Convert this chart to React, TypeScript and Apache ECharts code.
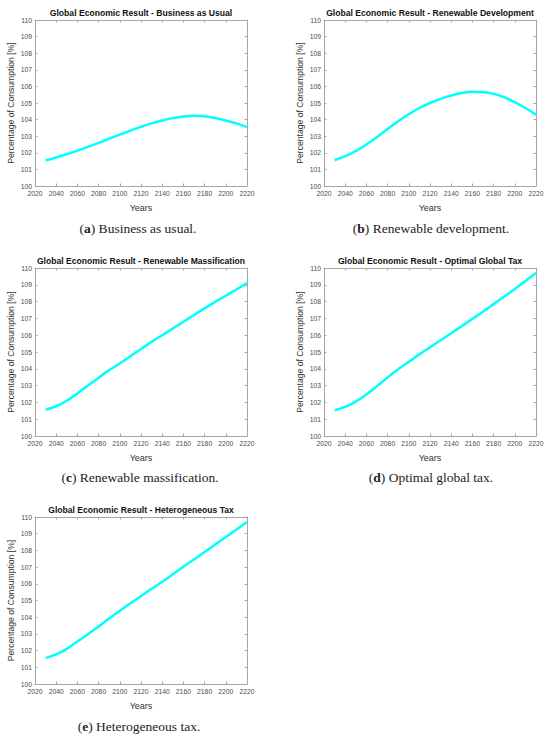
import React, { useEffect, useRef } from "react";
import * as echarts from "echarts";

const years = [2030, 2040, 2050, 2060, 2070, 2080, 2090, 2100, 2110, 2120, 2130, 2140, 2150, 2160, 2170, 2180, 2190, 2200, 2210, 2220];
const businessAsUsual = [101.55, 101.72, 101.92, 102.13, 102.36, 102.6, 102.85, 103.1, 103.34, 103.56, 103.77, 103.95, 104.09, 104.19, 104.23, 104.2, 104.1, 103.95, 103.77, 103.55];
const renewableDevelopment = [101.55, 101.8, 102.1, 102.5, 102.95, 103.43, 103.9, 104.32, 104.7, 105.0, 105.25, 105.45, 105.6, 105.68, 105.66, 105.55, 105.35, 105.05, 104.7, 104.3];
const renewableMassification = [101.57, 101.77, 102.1, 102.53, 103.0, 103.47, 103.92, 104.32, 104.75, 105.18, 105.6, 106.0, 106.4, 106.8, 107.2, 107.6, 107.98, 108.35, 108.72, 109.1];
const optimalGlobalTax = [101.53, 101.73, 102.05, 102.47, 102.97, 103.49, 103.97, 104.42, 104.86, 105.28, 105.7, 106.12, 106.54, 106.97, 107.4, 107.85, 108.3, 108.75, 109.22, 109.7];
const heterogeneousTax = [101.55, 101.77, 102.1, 102.55, 102.98, 103.44, 103.92, 104.38, 104.83, 105.27, 105.7, 106.12, 106.57, 107.02, 107.46, 107.91, 108.35, 108.8, 109.25, 109.7];

const titles = [
  "Global Economic Result - Business as Usual",
  "Global Economic Result - Renewable Development",
  "Global Economic Result - Renewable Massification",
  "Global Economic Result - Optimal Global Tax",
  "Global Economic Result - Heterogeneous Tax",
];
const captionLetters = ["a", "b", "c", "d", "e"];
const captionTexts = [
  "Business as usual.",
  "Renewable development.",
  "Renewable massification.",
  "Optimal global tax.",
  "Heterogeneous tax.",
];
const seriesValues = [businessAsUsual, renewableDevelopment, renewableMassification, optimalGlobalTax, heterogeneousTax];
const xLabel = "Years";
const yLabel = "Percentage of Consumption [%]";

// layout
const cols = [
  { left: 35, right: 247 },
  { left: 324, right: 536 },
];
const rows = [
  { top: 20, bottom: 186, title: 13, caption: 228 },
  { top: 268, bottom: 436, title: 261, caption: 477 },
  { top: 517, bottom: 684, title: 510, caption: 726 },
];
const captionX = [138, 431, 140, 431, 139];

const SANS = "'Liberation Sans', Arial, sans-serif";
const SERIF = "'Liberation Serif', 'Times New Roman', serif";
const AXIS_COLOR = "#a6a6a6";
const LABEL_COLOR = "#4d4d4d";

export default function App() {
  const ref = useRef<HTMLDivElement>(null);
  useEffect(() => {
    if (!ref.current) return;
    const chart = echarts.init(ref.current, undefined, { renderer: "svg" });
    const grids: any[] = [];
    const xAxes: any[] = [];
    const yAxes: any[] = [];
    const series: any[] = [];
    const graphics: any[] = [];
    seriesValues.forEach((vals, i) => {
      const r = rows[Math.floor(i / 2)];
      const c = cols[i % 2];
      grids.push({
        left: c.left,
        top: r.top,
        width: c.right - c.left,
        height: r.bottom - r.top,
        containLabel: false,
      });
      const base = {
        gridIndex: i,
        type: "value",
        min: 2020,
        max: 2220,
        interval: 20,
        axisLine: { show: true, onZero: false, lineStyle: { color: AXIS_COLOR, width: 1 } },
        axisTick: { show: true, inside: true, length: 2.5, lineStyle: { color: AXIS_COLOR } },
        splitLine: { show: false },
      };
      xAxes.push({
        ...base,
        position: "bottom",
        name: xLabel,
        nameLocation: "middle",
        nameGap: 17,
        nameTextStyle: { fontFamily: SANS, fontSize: 9, color: "#333" },
        axisLabel: {
          fontFamily: SANS,
          fontSize: 6.8,
          color: LABEL_COLOR,
          margin: 4,
          formatter: (v: number) => String(v),
        },
      });
      xAxes.push({ ...base, position: "top", axisLabel: { show: false } });
      const ybase = {
        gridIndex: i,
        type: "value",
        min: 100,
        max: 110,
        interval: 1,
        axisLine: { show: true, onZero: false, lineStyle: { color: AXIS_COLOR, width: 1 } },
        axisTick: { show: true, inside: true, length: 2.5, lineStyle: { color: AXIS_COLOR } },
        splitLine: { show: false },
      };
      yAxes.push({
        ...ybase,
        position: "left",
        name: yLabel,
        nameLocation: "middle",
        nameGap: 20,
        nameTextStyle: { fontFamily: SANS, fontSize: 8.6, color: "#333" },
        axisLabel: {
          fontFamily: SANS,
          fontSize: 6.8,
          color: LABEL_COLOR,
          margin: 3,
          formatter: (v: number) => String(v),
        },
      });
      yAxes.push({ ...ybase, position: "right", axisLabel: { show: false } });
      series.push({
        type: "line",
        xAxisIndex: 2 * i,
        yAxisIndex: 2 * i,
        data: years.map((y, k) => [y, vals[k]]),
        smooth: 0.3,
        showSymbol: false,
        lineStyle: { color: "#00ffff", width: 2.5 },
        itemStyle: { color: "#00ffff" },
      });
      graphics.push({
        type: "text",
        x: (c.left + c.right) / 2,
        y: r.title,
        style: {
          text: titles[i],
          textAlign: "center",
          textVerticalAlign: "middle",
          fontFamily: SANS,
          fontWeight: "bold",
          fontSize: 8.6,
          fill: "#111",
        },
      });
      graphics.push({
        type: "text",
        x: captionX[i],
        y: r.caption,
        style: {
          text: "({b|" + captionLetters[i] + "}) " + captionTexts[i],
          textAlign: "center",
          textVerticalAlign: "middle",
          fontFamily: SERIF,
          fontSize: 13.5,
          fill: "#222",
          rich: {
            b: { fontFamily: SERIF, fontSize: 13.5, fontWeight: "bold", fill: "#222" },
          },
        },
      });
    });
    chart.setOption({
      animation: false,
      backgroundColor: "#ffffff",
      grid: grids,
      xAxis: xAxes,
      yAxis: yAxes,
      series,
      graphic: graphics,
    });
    return () => chart.dispose();
  }, []);
  return (
    <div
      ref={ref}
      style={{ position: "absolute", left: 0, top: 0, width: 550, height: 739, background: "#fff" }}
    />
  );
}
